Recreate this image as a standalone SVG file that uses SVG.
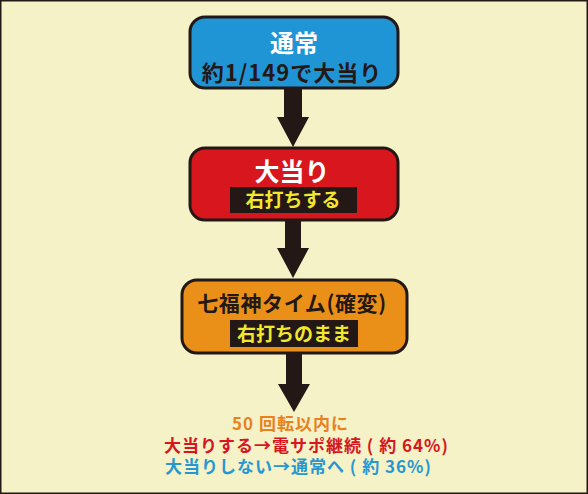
<svg xmlns="http://www.w3.org/2000/svg" width="588" height="494" viewBox="0 0 588 494">
<style>
.box{stroke:#231815;stroke-width:3}
.t{font-family:"Noto Sans CJK JP","Noto Sans",sans-serif;font-weight:bold;text-anchor:middle}
.lb{fill:#231815}
.arrow{fill:#231815}
.b{font-family:"Noto Sans CJK JP","Noto Sans",sans-serif;font-weight:bold;font-size:17px;letter-spacing:1px}
</style>
<rect x="0.75" y="0.75" width="586.5" height="492.5" fill="#f5f2c7" stroke="#231815" stroke-width="1.5"/>
<g id="connectors">
<polygon class="arrow" points="284,88 302,88 302,117 309,117 293,147 277,117 284,117"/>
<polygon class="arrow" points="285,220 301,220 301,248 309,248 293,278 277,248 285,248"/>
<polygon class="arrow" points="286,353 302,353 302,384 310,384 294,412 278,384 286,384"/>
</g>
<g id="node-normal">
<rect class="box" x="190" y="17" width="208" height="71" rx="15" fill="#1f95d5"/>
<text class="t" x="294" y="52" font-size="24" fill="#ffffff">通常</text>
<text class="t" x="292" y="81" font-size="22" fill="#231815" letter-spacing="1">約1/149で大当り</text>
</g>
<g id="node-jackpot">
<rect class="box" x="190" y="148" width="208" height="72" rx="15" fill="#d7161d"/>
<text class="t" x="292" y="181" font-size="25" fill="#ffffff">大当り</text>
<rect class="lb" x="230" y="187" width="127" height="26"/>
<text class="t" x="293" y="207" font-size="19" fill="#f3e72c">右打ちする</text>
</g>
<g id="node-kakuhen">
<rect class="box" x="182" y="280" width="225" height="73" rx="15" fill="#ea9019"/>
<text class="t" x="292" y="311" font-size="21" fill="#231815" letter-spacing="0.6">七福神タイム(確変)</text>
<rect class="lb" x="230" y="320" width="128" height="27"/>
<text class="t" x="294" y="341" font-size="19" fill="#f3e72c">右打ちのまま</text>
</g>
<g id="result-text">
<text class="b" x="232" y="430" fill="#e8821e">50 回転以内に</text>
<text class="b" x="164" y="452" fill="#d7161d">大当りする→電サポ継続 ( 約 64%)</text>
<text class="b" x="165" y="473" fill="#2797d1">大当りしない→通常へ ( 約 36%)</text>
</g>
</svg>
